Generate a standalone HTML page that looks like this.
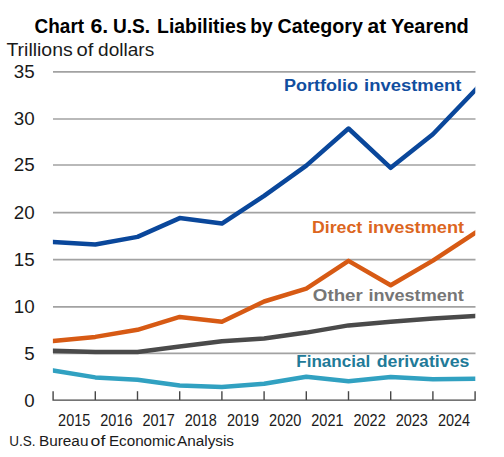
<!DOCTYPE html>
<html><head><meta charset="utf-8"><style>
html,body{margin:0;padding:0;background:#fff;}
svg{display:block;font-family:"Liberation Sans", sans-serif;}
</style></head><body>
<svg width="504" height="457" viewBox="0 0 504 457">
<rect width="504" height="457" fill="#fff"/>
<line x1="53" x2="475.5" y1="353.40" y2="353.40" stroke="#a2a2a2" stroke-width="1.7"/>
<line x1="53" x2="475.5" y1="306.80" y2="306.80" stroke="#a2a2a2" stroke-width="1.7"/>
<line x1="53" x2="475.5" y1="259.60" y2="259.60" stroke="#a2a2a2" stroke-width="1.7"/>
<line x1="53" x2="475.5" y1="212.60" y2="212.60" stroke="#a2a2a2" stroke-width="1.7"/>
<line x1="53" x2="475.5" y1="165.00" y2="165.00" stroke="#a2a2a2" stroke-width="1.7"/>
<line x1="53" x2="475.5" y1="119.00" y2="119.00" stroke="#a2a2a2" stroke-width="1.7"/>
<line x1="53" x2="475.5" y1="71.90" y2="71.90" stroke="#a2a2a2" stroke-width="1.7"/>
<text x="24.35" y="407.2" font-size="17.6" fill="#1a1a1a" textLength="10.4" lengthAdjust="spacingAndGlyphs">0</text>
<text x="24.35" y="359.5" font-size="17.6" fill="#1a1a1a" textLength="10.4" lengthAdjust="spacingAndGlyphs">5</text>
<text x="13.85" y="312.9" font-size="17.6" fill="#1a1a1a" textLength="20.9" lengthAdjust="spacingAndGlyphs">10</text>
<text x="13.85" y="265.7" font-size="17.6" fill="#1a1a1a" textLength="20.9" lengthAdjust="spacingAndGlyphs">15</text>
<text x="13.85" y="218.7" font-size="17.6" fill="#1a1a1a" textLength="20.9" lengthAdjust="spacingAndGlyphs">20</text>
<text x="13.85" y="171.1" font-size="17.6" fill="#1a1a1a" textLength="20.9" lengthAdjust="spacingAndGlyphs">25</text>
<text x="13.85" y="125.1" font-size="17.6" fill="#1a1a1a" textLength="20.9" lengthAdjust="spacingAndGlyphs">30</text>
<text x="13.85" y="78.0" font-size="17.6" fill="#1a1a1a" textLength="20.9" lengthAdjust="spacingAndGlyphs">35</text>
<path d="M53.1,391.2 V400.1 H475.1 V391.2" fill="none" stroke="#474747" stroke-width="1.4"/>
<line x1="95.3" x2="95.3" y1="391.2" y2="400.1" stroke="#474747" stroke-width="1.4"/>
<line x1="137.5" x2="137.5" y1="391.2" y2="400.1" stroke="#474747" stroke-width="1.4"/>
<line x1="179.7" x2="179.7" y1="391.2" y2="400.1" stroke="#474747" stroke-width="1.4"/>
<line x1="221.9" x2="221.9" y1="391.2" y2="400.1" stroke="#474747" stroke-width="1.4"/>
<line x1="264.1" x2="264.1" y1="391.2" y2="400.1" stroke="#474747" stroke-width="1.4"/>
<line x1="306.3" x2="306.3" y1="391.2" y2="400.1" stroke="#474747" stroke-width="1.4"/>
<line x1="348.5" x2="348.5" y1="391.2" y2="400.1" stroke="#474747" stroke-width="1.4"/>
<line x1="390.7" x2="390.7" y1="391.2" y2="400.1" stroke="#474747" stroke-width="1.4"/>
<line x1="432.9" x2="432.9" y1="391.2" y2="400.1" stroke="#474747" stroke-width="1.4"/>
<text x="58.1" y="425.8" font-size="15.9" fill="#1a1a1a" textLength="32.2" lengthAdjust="spacingAndGlyphs">2015</text>
<text x="100.3" y="425.8" font-size="15.9" fill="#1a1a1a" textLength="32.2" lengthAdjust="spacingAndGlyphs">2016</text>
<text x="142.5" y="425.8" font-size="15.9" fill="#1a1a1a" textLength="32.2" lengthAdjust="spacingAndGlyphs">2017</text>
<text x="184.7" y="425.8" font-size="15.9" fill="#1a1a1a" textLength="32.2" lengthAdjust="spacingAndGlyphs">2018</text>
<text x="226.9" y="425.8" font-size="15.9" fill="#1a1a1a" textLength="32.2" lengthAdjust="spacingAndGlyphs">2019</text>
<text x="269.1" y="425.8" font-size="15.9" fill="#1a1a1a" textLength="32.2" lengthAdjust="spacingAndGlyphs">2020</text>
<text x="311.3" y="425.8" font-size="15.9" fill="#1a1a1a" textLength="32.2" lengthAdjust="spacingAndGlyphs">2021</text>
<text x="353.5" y="425.8" font-size="15.9" fill="#1a1a1a" textLength="32.2" lengthAdjust="spacingAndGlyphs">2022</text>
<text x="395.7" y="425.8" font-size="15.9" fill="#1a1a1a" textLength="32.2" lengthAdjust="spacingAndGlyphs">2023</text>
<text x="437.9" y="425.8" font-size="15.9" fill="#1a1a1a" textLength="32.2" lengthAdjust="spacingAndGlyphs">2024</text>
<clipPath id="pc"><rect x="52.9" y="0" width="422.4" height="457"/></clipPath>
<polyline clip-path="url(#pc)" points="48.10,369.68 53.10,370.50 95.30,377.40 137.50,379.80 179.70,385.50 221.90,387.00 264.10,383.80 306.30,376.80 348.50,381.20 390.70,377.00 432.90,379.20 475.10,378.80 480.10,378.75" fill="none" stroke="#31a1c1" stroke-width="4.5" stroke-linejoin="round" stroke-linecap="butt"/>
<polyline clip-path="url(#pc)" points="48.10,350.56 53.10,350.70 95.30,351.90 137.50,351.90 179.70,346.50 221.90,341.20 264.10,338.50 306.30,332.60 348.50,325.40 390.70,321.80 432.90,318.60 475.10,315.90 480.10,315.58" fill="none" stroke="#4a4a4a" stroke-width="4.5" stroke-linejoin="round" stroke-linecap="butt"/>
<polyline clip-path="url(#pc)" points="48.10,341.49 53.10,341.00 95.30,336.90 137.50,329.80 179.70,316.90 221.90,321.80 264.10,301.50 306.30,288.70 348.50,260.90 390.70,285.20 432.90,260.60 475.10,233.00 480.10,229.73" fill="none" stroke="#d75a14" stroke-width="4.5" stroke-linejoin="round" stroke-linecap="butt"/>
<polyline clip-path="url(#pc)" points="48.10,241.59 53.10,241.90 95.30,244.50 137.50,236.90 179.70,218.10 221.90,223.60 264.10,195.80 306.30,165.60 348.50,128.50 390.70,167.80 432.90,134.30 475.10,90.20 480.10,84.97" fill="none" stroke="#0a479b" stroke-width="4.5" stroke-linejoin="round" stroke-linecap="butt"/>
<text x="34.60" y="32.5" font-size="19.5" font-weight="bold" fill="#000" textLength="49.50" lengthAdjust="spacingAndGlyphs">Chart</text>
<text x="90.42" y="32.5" font-size="19.5" font-weight="bold" fill="#000" textLength="17.79" lengthAdjust="spacingAndGlyphs">6.</text>
<text x="112.91" y="32.5" font-size="19.5" font-weight="bold" fill="#000" textLength="37.15" lengthAdjust="spacingAndGlyphs">U.S.</text>
<text x="157.08" y="32.5" font-size="19.5" font-weight="bold" fill="#000" textLength="89.45" lengthAdjust="spacingAndGlyphs">Liabilities</text>
<text x="250.17" y="32.5" font-size="19.5" font-weight="bold" fill="#000" textLength="22.60" lengthAdjust="spacingAndGlyphs">by</text>
<text x="277.63" y="32.5" font-size="19.5" font-weight="bold" fill="#000" textLength="85.35" lengthAdjust="spacingAndGlyphs">Category</text>
<text x="367.53" y="32.5" font-size="19.5" font-weight="bold" fill="#000" textLength="18.66" lengthAdjust="spacingAndGlyphs">at</text>
<text x="391.03" y="32.5" font-size="19.5" font-weight="bold" fill="#000" textLength="77.80" lengthAdjust="spacingAndGlyphs">Yearend</text>
<text x="6.43" y="56.0" font-size="17.5" font-weight="normal" fill="#1a1a1a" textLength="66.28" lengthAdjust="spacingAndGlyphs">Trillions</text>
<text x="76.47" y="56.0" font-size="17.5" font-weight="normal" fill="#1a1a1a" textLength="16.83" lengthAdjust="spacingAndGlyphs">of</text>
<text x="98.10" y="56.0" font-size="17.5" font-weight="normal" fill="#1a1a1a" textLength="56.10" lengthAdjust="spacingAndGlyphs">dollars</text>
<text x="284.03" y="90.9" font-size="16.8" font-weight="bold" fill="#114e9f" textLength="73.92" lengthAdjust="spacingAndGlyphs">Portfolio</text>
<text x="364.04" y="90.9" font-size="16.8" font-weight="bold" fill="#114e9f" textLength="97.30" lengthAdjust="spacingAndGlyphs">investment</text>
<text x="311.98" y="232.6" font-size="16.8" font-weight="bold" fill="#dc661e" textLength="50.23" lengthAdjust="spacingAndGlyphs">Direct</text>
<text x="368.05" y="232.6" font-size="16.8" font-weight="bold" fill="#dc661e" textLength="96.09" lengthAdjust="spacingAndGlyphs">investment</text>
<text x="312.86" y="301.4" font-size="16.8" font-weight="bold" fill="#767676" textLength="49.95" lengthAdjust="spacingAndGlyphs">Other</text>
<text x="368.44" y="301.4" font-size="16.8" font-weight="bold" fill="#767676" textLength="95.34" lengthAdjust="spacingAndGlyphs">investment</text>
<text x="296.29" y="366.6" font-size="16.8" font-weight="bold" fill="#217a98" textLength="73.91" lengthAdjust="spacingAndGlyphs">Financial</text>
<text x="376.69" y="366.6" font-size="16.8" font-weight="bold" fill="#217a98" textLength="92.68" lengthAdjust="spacingAndGlyphs">derivatives</text>
<text x="9.19" y="446.0" font-size="14" font-weight="normal" fill="#1a1a1a" textLength="26.31" lengthAdjust="spacingAndGlyphs">U.S.</text>
<text x="38.93" y="446.0" font-size="14" font-weight="normal" fill="#1a1a1a" textLength="49.54" lengthAdjust="spacingAndGlyphs">Bureau</text>
<text x="90.64" y="446.0" font-size="14" font-weight="normal" fill="#1a1a1a" textLength="14.72" lengthAdjust="spacingAndGlyphs">of</text>
<text x="108.94" y="446.0" font-size="14" font-weight="normal" fill="#1a1a1a" textLength="66.76" lengthAdjust="spacingAndGlyphs">Economic</text>
<text x="176.99" y="446.0" font-size="14" font-weight="normal" fill="#1a1a1a" textLength="57.04" lengthAdjust="spacingAndGlyphs">Analysis</text>
</svg>
</body></html>
